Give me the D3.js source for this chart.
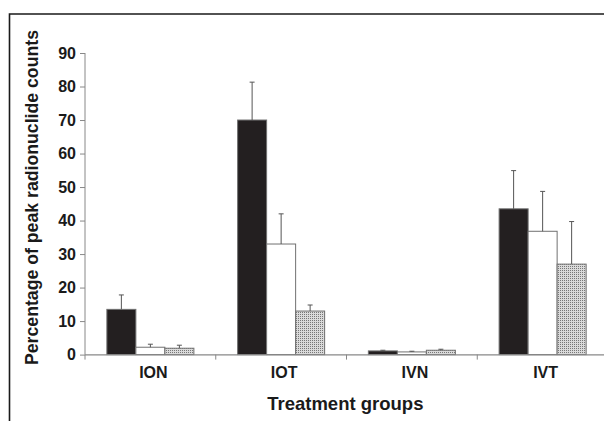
<!DOCTYPE html>
<html><head><meta charset="utf-8">
<script src="https://cdn.jsdelivr.net/npm/d3@7"></script>
<style>
html,body{margin:0;padding:0;background:#fff;}
svg{display:block;font-family:"Liberation Sans",Arial,Helvetica,sans-serif;}
</style></head>
<body>
<svg id="chart" width="604" height="421"></svg>
<script>
const groups = ["ION", "IOT", "IVN", "IVT"];
const seriesNames = ["s1", "s2", "s3"];
const valuesS1 = [13.5, 70.0, 1.1, 43.5];
const errorsS1 = [4.3, 11.3, 0.2, 11.4];
const valuesS2 = [2.2, 33.0, 0.8, 36.8];
const errorsS2 = [0.9, 9.0, 0.2, 11.9];
const valuesS3 = [1.9, 13.0, 1.3, 27.0];
const errorsS3 = [0.9, 1.8, 0.3, 12.7];
const yTicks = [0, 10, 20, 30, 40, 50, 60, 70, 80, 90];
const yLabel = "Percentage of peak radionuclide counts";
const xLabel = "Treatment groups";

const seriesVals = [valuesS1, valuesS2, valuesS3];
const seriesErrs = [errorsS1, errorsS2, errorsS3];

const svg = d3.select("#chart");
const defs = svg.append("defs");
const pat = defs.append("pattern").attr("id","dots").attr("patternUnits","userSpaceOnUse")
  .attr("width",2).attr("height",2);
pat.append("rect").attr("width",2).attr("height",2).attr("fill","#dadada");
pat.append("rect").attr("width",1).attr("height",1).attr("fill","#777");

const fills = ["#231f20", "#ffffff", "url(#dots)"];

// frame
svg.append("path").attr("d","M9.5,421 V14 H604").attr("fill","none")
  .attr("stroke","#1a1a1a").attr("stroke-width",1.6);

const x0 = d3.scaleBand().domain(groups).range([85, 608]).padding(0);
const x1 = d3.scaleBand().domain(seriesNames).range([0, x0.bandwidth()]).paddingInner(0).paddingOuter(0.754);
const y = d3.scaleLinear().domain([0, 90]).range([354.6, 53]);

// y axis
const yAxis = d3.axisLeft(y).tickValues(yTicks).tickSize(5).tickPadding(4).tickFormat(d3.format("d"));
const gy = svg.append("g").attr("transform","translate(85,0)").call(yAxis);
gy.select(".domain").attr("stroke","#888").attr("d", `M0,${y(0)}V${y(90)}`);
gy.selectAll(".tick line").attr("stroke","#888");
gy.selectAll(".tick text").attr("fill","#1a1a1a").attr("font-size","16px").attr("font-weight","bold")
  .attr("font-family","'Liberation Sans',Arial,sans-serif");

// bars
const data = [];
groups.forEach((g, gi) => seriesNames.forEach((s, si) => {
  data.push({g, s, si, v: seriesVals[si][gi], e: seriesErrs[si][gi]});
}));

const bars = svg.append("g");
bars.selectAll("rect").data(data).join("rect")
  .attr("x", d => x0(d.g) + x1(d.s))
  .attr("width", x1.bandwidth())
  .attr("y", d => y(d.v))
  .attr("height", d => y(0) - y(d.v))
  .attr("fill", d => fills[d.si])
  .attr("stroke", "#707070").attr("stroke-width", 1);

// error bars
const eb = svg.append("g").attr("stroke","#555").attr("stroke-width",1).attr("fill","none");
eb.selectAll("path").data(data).join("path")
  .attr("d", d => {
    const cx = x0(d.g) + x1(d.s) + x1.bandwidth()/2;
    const top = y(d.v + d.e);
    return `M${cx},${y(d.v)}V${top}M${cx-2.5},${top}H${cx+2.5}`;
  });

// x axis
const xAxisG = svg.append("g");
xAxisG.append("path").attr("d", `M85,${y(0)+0.3}H608`).attr("stroke","#888").attr("stroke-width",1.2).attr("fill","none");
const bounds = groups.map(g => x0(g)).concat([x0.range()[1]]);
xAxisG.selectAll("line").data(bounds).join("line")
  .attr("x1", d => d).attr("x2", d => d)
  .attr("y1", y(0)).attr("y2", y(0)+5)
  .attr("stroke","#888");
xAxisG.selectAll("text").data(groups).join("text")
  .attr("x", d => x0(d) + x0.bandwidth()/2 + 3)
  .attr("y", 377.5)
  .attr("text-anchor","middle")
  .attr("font-size","16px").attr("font-weight","bold").attr("fill","#1a1a1a")
  .text(d => d);

// axis titles
svg.append("text").attr("x",345.3).attr("y",410)
  .attr("text-anchor","middle").attr("font-size","18.5px").attr("font-weight","bold").attr("fill","#1a1a1a")
  .text(xLabel);
svg.append("text").attr("transform","translate(38.3,197.5) rotate(-90)")
  .attr("text-anchor","middle").attr("font-size","19px").attr("font-weight","bold").attr("fill","#1a1a1a")
  .attr("textLength",335).attr("lengthAdjust","spacingAndGlyphs")
  .text(yLabel);
</script>
</body></html>
